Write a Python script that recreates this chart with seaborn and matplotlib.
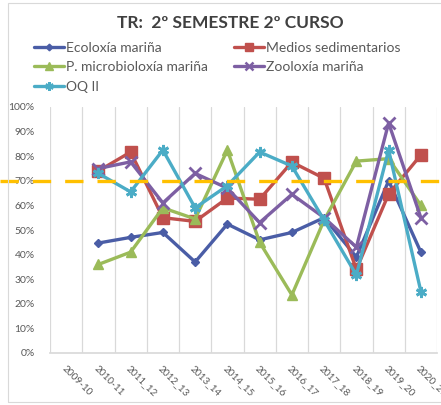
import numpy as np
import pandas as pd
import matplotlib
matplotlib.use("Agg")
import matplotlib.pyplot as plt
import seaborn as sns
from matplotlib.patches import Rectangle
from matplotlib.lines import Line2D

sns.set_theme(style="white")
plt.rcParams['font.family'] = ['Lato', 'DejaVu Sans']

categories = ["2009-10", "2010-11", "2011_12", "2012_13", "2013_14", "2014_15",
              "2015_16", "2016_17", "2017_18", "2018_19", "2019_20", "2020_21"]
series_names = ["Ecoloxía mariña", "Medios sedimentarios", "P. microbioloxía mariña",
                "Zooloxía mariña", "OQ II"]
ecoloxia = [np.nan, 0.447, 0.47, 0.49, 0.37, 0.524, 0.46, 0.49, 0.55, 0.39, 0.70, 0.41]
medios = [np.nan, 0.74, 0.817, 0.55, 0.535, 0.63, 0.625, 0.776, 0.71, 0.34, 0.646, 0.805]
microbio = [np.nan, 0.36, 0.41, 0.59, 0.545, 0.825, 0.45, 0.236, 0.54, 0.78, 0.79, 0.60]
zooloxia = [np.nan, 0.75, 0.777, 0.61, 0.73, 0.67, 0.53, 0.645, 0.55, 0.43, 0.935, 0.55]
oq2 = [np.nan, 0.73, 0.655, 0.825, 0.59, 0.68, 0.817, 0.76, 0.54, 0.317, 0.825, 0.25]
threshold = 0.70
title = "TR:  2º SEMESTRE 2º CURSO"

colors = ["#4A5DA6", "#C0504D", "#9BBB59", "#7D5FA3", "#4BACC6"]
markers = ["D", "s", "^", "x", (6, 2, 0)]
msizes = [4.5, 8, 7, 8, 8]

df = pd.DataFrame({
    "year": categories * 5,
    "serie": np.repeat(series_names, len(categories)),
    "value": ecoloxia + medios + microbio + zooloxia + oq2,
})

fig = plt.figure(figsize=(4.41, 4.05), dpi=100)
fig.patches.append(Rectangle((8 / 441, 1 - 402 / 405), 1.2, (402 - 3) / 405,
                             transform=fig.transFigure, fill=False,
                             edgecolor="#D9D9D9", lw=0.8))

ax = fig.add_axes([50 / 441, 1 - 353 / 405, 387 / 441, (353 - 107) / 405])

for name, c, m, ms in zip(series_names, colors, markers, msizes):
    sub = df[df["serie"] == name]
    sns.pointplot(data=sub, x="year", y="value", order=categories, color=c,
                  marker=m, markersize=ms, linewidth=2.4, errorbar=None, ax=ax,
                  markeredgewidth=2 if m in ("x", (6, 2, 0)) else 1)

ax.set_xlim(-0.5, len(categories) - 0.5)
ax.set_ylim(0, 1)
ax.set_yticks(np.arange(0, 1.01, 0.1))
ax.set_yticklabels([f"{int(round(v * 100))}%" for v in np.arange(0, 1.01, 0.1)],
                   fontsize=7.5, color="#595959")
ax.set_xticks(range(len(categories)))
ax.set_xticklabels(categories, rotation=-45, ha="left", rotation_mode="anchor",
                   fontsize=7.2, color="#595959")
ax.tick_params(axis="x", length=0, pad=8)
ax.tick_params(axis="y", length=0, pad=11)
ax.set_xticks(np.arange(-0.5, len(categories), 1.0), minor=True)
ax.grid(False)
ax.grid(True, which="minor", axis="x", color="#D9D9D9", lw=0.9)
ax.tick_params(which="minor", length=0)
for s in ["top", "right", "left"]:
    ax.spines[s].set_visible(False)
ax.spines["bottom"].set_color("#D9D9D9")
ax.set_xlabel("")
ax.set_ylabel("")

ax.axhline(threshold, xmin=-50 / 387, xmax=1.02, color="#FFC000", lw=2.4,
           ls=(0, (5.5, 4.2)), clip_on=False, zorder=5)

fig.text(0.522, 1 - 23 / 405, title, ha="center", va="center", fontsize=12.5,
         fontweight="bold", color="#404040")

handles = [Line2D([], [], color=c, marker=m, markersize=ms * 0.75, lw=2.4,
                  markeredgewidth=1.8 if m in ("x", (6, 2, 0)) else 1)
           for c, m, ms in zip(colors, markers, msizes)]
order = [0, 2, 4, 1, 3]
fig.legend([handles[i] for i in order], [series_names[i] for i in order],
           ncol=2, loc="upper left", bbox_to_anchor=(28 / 441, 1 - 36 / 405),
           frameon=False, fontsize=10, labelcolor="#595959",
           handlelength=2.2, handletextpad=0.1, columnspacing=1.9,
           labelspacing=0.55, borderaxespad=0)

fig.savefig("out.png", dpi=100)
